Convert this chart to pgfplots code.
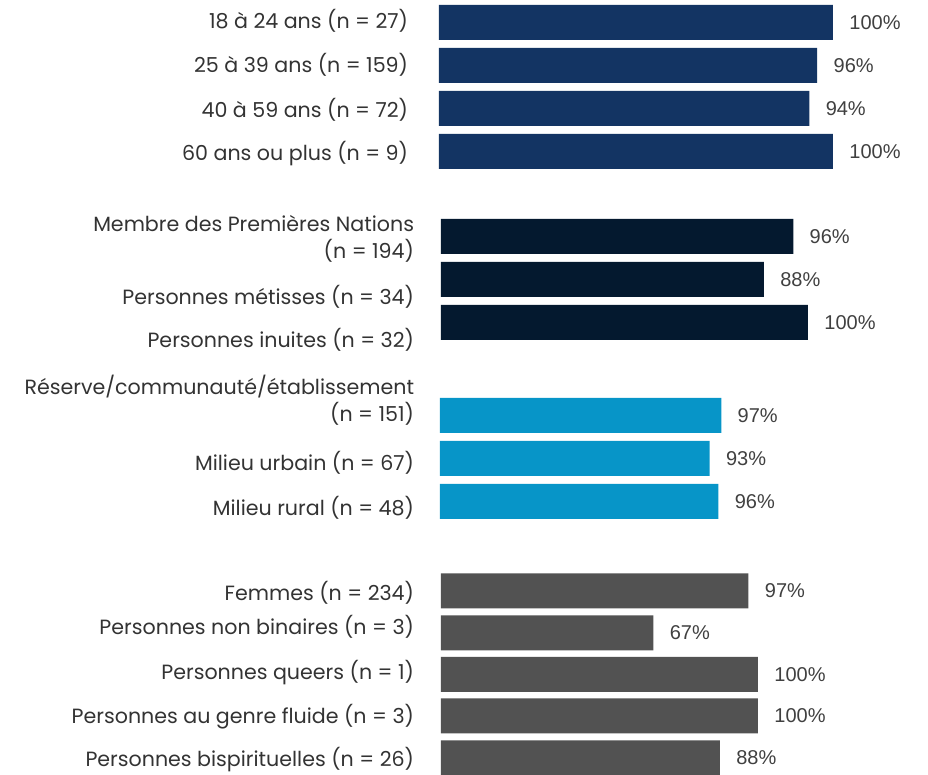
\documentclass[border=0pt]{standalone}
\usepackage{pgfplots}
\pgfplotsset{compat=1.18}
\usepackage{fontspec}
\setmainfont{Poppins}
\newfontfamily\valfont{Liberation Sans}

\definecolor{agebar}{HTML}{133463}
\definecolor{idbar}{HTML}{04192F}
\definecolor{placebar}{HTML}{0795C8}
\definecolor{genderbar}{HTML}{525252}
\definecolor{labelgray}{HTML}{333333}
\definecolor{valgray}{HTML}{404040}

% 1 px of the reference = 0.5pt; y values are pixel rows (negative, top = 0)
\pgfplotsset{
  grp/.style={
    xbar, scale only axis, height=387.5pt,
    ymin=-775, ymax=0, xmin=0, xmax=100,
    anchor=south west, clip=false,
    axis line style={draw=none}, major tick style={draw=none},
    xtick=\empty, bar width=17.5pt,
    /pgf/number format/assume math mode=true,
    yticklabel style={anchor=east, inner sep=0pt, align=right,
      font=\fontsize{10.3}{13.5}\selectfont, text=labelgray},
    point meta=x,
    nodes near coords={\pgfmathprintnumber{\pgfplotspointmeta}\%},
    nodes near coords style={anchor=west, inner sep=0pt, xshift=8pt,
      font=\valfont\fontsize{10}{12}\selectfont, text=valgray},
  },
}

\begin{document}
\begin{tikzpicture}
\useasboundingbox (0,0) rectangle (464pt,387.5pt);

% age
\begin{axis}[grp, at={(219.5pt,0pt)}, width=197pt,
  ytick={-21,-65,-110,-154},
  yticklabels={18 à 24 ans (n = 27), 25 à 39 ans (n = 159), 40 à 59 ans (n = 72), 60 ans ou plus (n = 9)},
  yticklabel style={xshift=-11pt}]
  \addplot[draw=none, fill=agebar] coordinates {(100,-22.5) (96,-65.5) (94,-108.5) (100,-151.5)};
\end{axis}

% identity
\begin{axis}[grp, at={(220.5pt,0pt)}, width=183.5pt,
  ytick={-238.5,-297,-340},
  yticklabels={{Membre des Premières Nations\\(n = 194)}, Personnes métisses (n = 34), Personnes inuites (n = 32)},
  yticklabel style={xshift=-9pt}]
  \addplot[draw=none, fill=idbar] coordinates {(96,-236.5) (88,-279.5) (100,-322.5)};
\end{axis}

% place
\begin{axis}[grp, at={(220pt,0pt)}, width=145pt,
  ytick={-400,-463,-508},
  yticklabels={{Réserve/communauté/établissement\\(n = 151)}, Milieu urbain (n = 67), Milieu rural (n = 48)},
  yticklabel style={xshift=-8.5pt}]
  \addplot[draw=none, fill=placebar] coordinates {(97,-415.5) (93,-458.5) (96,-501.5)};
\end{axis}

% gender
\begin{axis}[grp, at={(220.5pt,0pt)}, width=158.5pt,
  ytick={-593,-627,-673,-717,-760},
  yticklabels={Femmes (n = 234), Personnes non binaires (n = 3), Personnes queers (n = 1), Personnes au genre fluide (n = 3), Personnes bispirituelles (n = 26)},
  yticklabel style={xshift=-9pt}]
  \addplot[draw=none, fill=genderbar] coordinates {(97,-591) (67,-633) (100,-674.5) (100,-716) (88,-758)};
\end{axis}
\end{tikzpicture}
\end{document}
